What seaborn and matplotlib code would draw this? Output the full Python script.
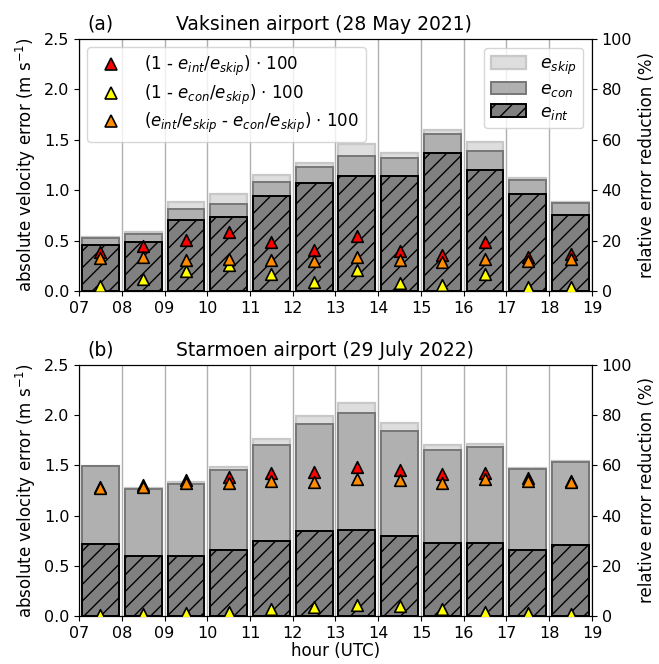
import numpy as np
import pandas as pd
import matplotlib
matplotlib.use("Agg")
import matplotlib.pyplot as plt
import matplotlib.patches as mpatches
from matplotlib.lines import Line2D
import seaborn as sns

# ---------------- data ----------------
hours = [7.5, 8.5, 9.5, 10.5, 11.5, 12.5, 13.5, 14.5, 15.5, 16.5, 17.5, 18.5]
tick_pos = list(range(7, 20))
tick_labels = ["07", "08", "09", "10", "11", "12", "13", "14", "15", "16", "17", "18", "19"]

# (a) Vaksinen airport
a_skip = [0.54, 0.59, 0.88, 0.96, 1.15, 1.27, 1.46, 1.37, 1.60, 1.48, 1.12, 0.88]
a_con = [0.53, 0.565, 0.81, 0.86, 1.08, 1.23, 1.34, 1.32, 1.56, 1.39, 1.10, 0.87]
a_int = [0.46, 0.49, 0.70, 0.73, 0.94, 1.07, 1.14, 1.14, 1.37, 1.20, 0.965, 0.75]
a_red = [15.6, 18.0, 20.2, 23.4, 19.3, 16.1, 21.8, 15.8, 14.2, 19.4, 13.6, 14.6]
a_yellow = [2.1, 4.6, 7.8, 10.4, 6.6, 3.7, 8.3, 3.3, 2.4, 6.6, 1.7, 1.6]
a_orange = [13.0, 13.4, 12.3, 12.8, 12.3, 12.0, 13.6, 12.3, 11.4, 12.6, 11.8, 12.8]

# (b) Starmoen airport
b_skip = [1.49, 1.27, 1.33, 1.48, 1.76, 1.99, 2.12, 1.925, 1.70, 1.71, 1.47, 1.54]
b_con = [1.49, 1.26, 1.315, 1.45, 1.70, 1.91, 2.025, 1.845, 1.65, 1.68, 1.46, 1.53]
b_int = [0.72, 0.60, 0.60, 0.656, 0.75, 0.845, 0.86, 0.80, 0.73, 0.73, 0.655, 0.705]
b_red = [51.3, 52.1, 54.2, 55.3, 56.9, 57.4, 59.4, 58.3, 56.6, 57.1, 54.8, 53.8]
b_yellow = [0.3, 0.9, 1.1, 1.7, 2.7, 3.5, 4.2, 4.0, 2.9, 1.7, 1.1, 0.8]
b_orange = [51.0, 51.4, 53.0, 52.8, 53.7, 53.3, 54.6, 54.0, 53.0, 54.6, 53.8, 53.4]

panels = [
    ("(a)", "Vaksinen airport (28 May 2021)", a_skip, a_con, a_int, a_red, a_yellow, a_orange),
    ("(b)", "Starmoen airport (29 July 2022)", b_skip, b_con, b_int, b_red, b_yellow, b_orange),
]

# ---------------- styles ----------------
skip_style = dict(color="#dedede", edgecolor="#c8c8c8", linewidth=1.6)
con_style = dict(color="#b0b0b0", edgecolor="#777777", linewidth=1.4)
int_style = dict(color="#808080", edgecolor="black", linewidth=1.4, hatch="//")
tri_colors = {"red": "red", "yellow": "yellow", "orange": "darkorange"}

plt.rcParams["font.size"] = 12
plt.rcParams["xtick.labelsize"] = 11.5
plt.rcParams["ytick.labelsize"] = 11.5
plt.rcParams["hatch.linewidth"] = 1.0

fig = plt.figure(figsize=(6.59, 6.64), dpi=100)
ax_rects = [[0.1199, 0.5617, 0.7784, 0.3796], [0.1199, 0.0723, 0.7784, 0.3780]]

for i, (lab, title, skip, con, intr, red, yel, ora) in enumerate(panels):
    ax = fig.add_axes(ax_rects[i])
    df = pd.DataFrame({"hour": hours, "skip": skip, "con": con, "int": intr,
                       "red": red, "yellow": yel, "orange": ora})
    sns.barplot(data=df, x="hour", y="skip", native_scale=True, width=0.86,
                errorbar=None, ax=ax, **skip_style)
    sns.barplot(data=df, x="hour", y="con", native_scale=True, width=0.86,
                errorbar=None, ax=ax, **con_style)
    sns.barplot(data=df, x="hour", y="int", native_scale=True, width=0.86,
                errorbar=None, ax=ax, **int_style)
    ax.set_axisbelow(True)
    ax.grid(axis="x", color="#b0b0b0", linewidth=1.0)
    ax.grid(axis="y", visible=False)
    ax.set_xlim(7, 19)
    ax.set_ylim(0, 2.5)
    ax.set_xticks(tick_pos)
    ax.set_xticklabels(tick_labels)
    ax.set_yticks(np.arange(0, 2.51, 0.5))
    ax.set_yticklabels([f"{v:.1f}" for v in np.arange(0, 2.51, 0.5)])
    ax.set_ylabel(r"absolute velocity error (m s$^{-1}$)")
    if i == 1:
        ax.set_xlabel("hour (UTC)", labelpad=1)
    else:
        ax.set_xlabel("")

    ax2 = ax.twinx()
    for key in ["red", "yellow", "orange"]:
        sns.scatterplot(data=df, x="hour", y=key, marker="^", s=70,
                        color=tri_colors[key], edgecolor="black", linewidth=1.2,
                        ax=ax2, zorder=3, legend=False)
    ax2.set_ylim(0, 100)
    ax2.set_yticks(range(0, 101, 20))
    ax2.set_ylabel("relative error reduction (%)")
    ax2.set_xlim(7, 19)

    ax.text(0.016, 1.02, lab, transform=ax.transAxes, fontsize=13.5, va="bottom", ha="left")
    ax.text(0.189, 1.02, title, transform=ax.transAxes, fontsize=13.5, va="bottom", ha="left")

    if i == 0:
        tri_handles = [Line2D([], [], ls="none", marker="^", markersize=8,
                              markerfacecolor=tri_colors[k], markeredgecolor="black",
                              markeredgewidth=1.2) for k in ["red", "yellow", "orange"]]
        tri_labels = [r"(1 - $e_{int}/e_{skip}$) $\cdot$ 100",
                      r"(1 - $e_{con}/e_{skip}$) $\cdot$ 100",
                      r"($e_{int}/e_{skip}$ - $e_{con}/e_{skip}$) $\cdot$ 100"]
        bar_handles = [mpatches.Patch(facecolor=s["color"], edgecolor=s["edgecolor"],
                                      linewidth=s["linewidth"], hatch=s.get("hatch"))
                       for s in [skip_style, con_style, int_style]]
        bar_labels = [r"$e_{skip}$", r"$e_{con}$", r"$e_{int}$"]
        leg2 = ax2.legend(bar_handles, bar_labels, loc="upper right", fontsize=12.5,
                          framealpha=0.8, handletextpad=0.8, labelspacing=0.2)
        ax2.add_artist(leg2)
        ax2.legend(tri_handles, tri_labels, loc="upper left", handletextpad=1.0,
                   fontsize=12, framealpha=0.8, labelspacing=0.25)

fig.savefig("out.png", dpi=100)
